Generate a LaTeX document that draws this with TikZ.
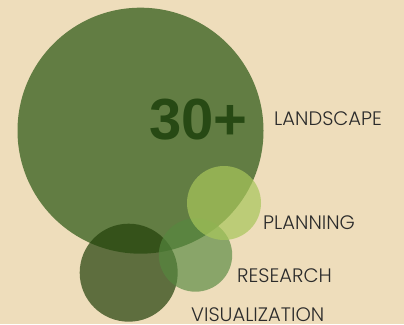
\documentclass[tikz,border=0pt]{standalone}
\usepackage{fontspec}
\setmainfont{Poppins Light}
\newfontfamily\numfont{Liberation Sans}
\definecolor{bgc}{HTML}{EEDDBB}
\definecolor{bigc}{HTML}{627D43}
\definecolor{planc}{HTML}{A8C65B}
\definecolor{resc}{HTML}{56883F}
\definecolor{visc}{HTML}{22400A}
\definecolor{numc}{HTML}{274914}
\definecolor{txtc}{HTML}{2B2B2B}
\tikzset{
  bubble/.style={circle, inner sep=0pt, draw=none},
  lbl/.style={anchor=base west, inner sep=0pt, text=txtc, font=\fontsize{19.5}{19.5}\selectfont}
}
\begin{document}
\begin{tikzpicture}[x=1pt,y=1pt]
\fill[bgc] (0,0) rectangle (404,324);
\useasboundingbox (0,0) rectangle (404,324);
\node[bubble, fill=bigc, minimum size=246pt] (big) at (140.5,193.3) {};
\node[bubble, fill=visc, fill opacity=0.7, minimum size=98pt] (vis) at (128.7,51.3) {};
\node[bubble, fill=resc, fill opacity=0.66, minimum size=73.4pt] (res) at (195.5,69) {};
\node[bubble, fill=planc, fill opacity=0.7, minimum size=74pt] (plan) at (224,121) {};
\node[anchor=base west, inner sep=0pt, text=numc, font=\numfont\bfseries\fontsize{58}{58}\selectfont] (num) at (149,184) {30+};
\node[lbl] (land) at (274,198) {LANDSCAPE};
\node[lbl] (planl) at (263,94.7) {PLANNING};
\node[lbl] (resl) at (237,42) {RESEARCH};
\node[lbl] (visl) at (191,2.3) {VISUALIZATION};
\end{tikzpicture}
\end{document}
